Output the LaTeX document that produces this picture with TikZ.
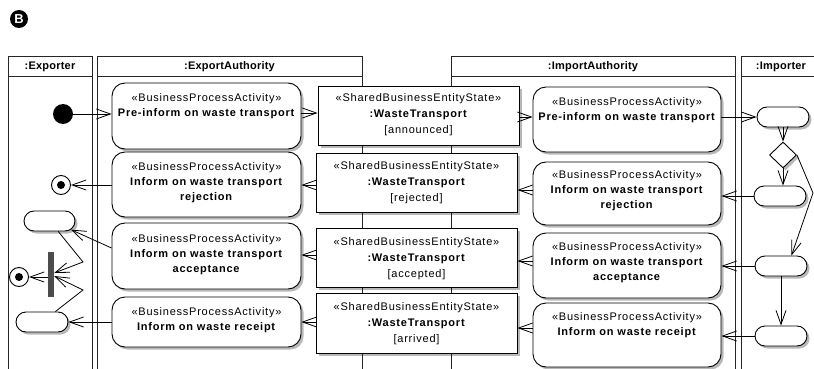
\documentclass[tikz,border=0pt]{standalone}
\usepackage{fontspec}
\setmainfont{Liberation Sans}[LetterSpace=7]
\usetikzlibrary{arrows.meta,shapes.misc,shapes.geometric,shadows}

\tikzset{
  ulane/.style={draw=black!85, line width=1pt},
  ulanehead/.style={inner sep=0pt, font=\bfseries\fontsize{11}{12}\selectfont\addfontfeature{LetterSpace=2}},
  boxshadow/.style={drop shadow={shadow xshift=2.5pt, shadow yshift=-2.5pt, fill=black, opacity=0.28}},
  uaction/.style={draw=black, line width=0.9pt, fill=white, rounded corners=13pt,
    boxshadow, minimum width=189pt, inner sep=0pt},
  uentity/.style={draw=black, line width=0.9pt, fill=white, boxshadow,
    minimum width=201pt, inner sep=0pt},
  actiontext/.style={anchor=north, align=center, inner sep=0pt, font=\fontsize{11}{15}\selectfont},
  entitytext/.style={anchor=north, align=center, inner sep=0pt, font=\fontsize{11}{16}\selectfont},
  upill/.style={rounded rectangle, draw=black, line width=0.9pt, fill=white, boxshadow,
    minimum width=52pt, minimum height=20pt, inner sep=0pt},
  startnode/.style={circle, fill=black, minimum size=20pt, inner sep=0pt},
  endnode/.style={circle, draw=black, line width=0.9pt, fill=white, minimum size=19pt, inner sep=0pt,
    path picture={\fill[black] (path picture bounding box.center) circle (4pt);}},
  forkbar/.style={rectangle, fill=black!70, minimum width=6pt, minimum height=45pt, inner sep=0pt},
  decision/.style={diamond, draw=black, line width=0.9pt, fill=white, boxshadow,
    minimum width=27pt, minimum height=26pt, inner sep=0pt},
  uflow/.style={draw=black, line width=0.8pt, -{Straight Barb[length=14pt,width=10pt]}},
}

\begin{document}
\begin{tikzpicture}[x=1pt, y=-1pt]
\useasboundingbox (0,0) rectangle (814,369);
\clip (0,0) rectangle (814,369);

% badge
\node[circle, fill=black, minimum size=18pt, inner sep=0pt, text=white,
  font=\bfseries\fontsize{13}{13}\selectfont\addfontfeature{LetterSpace=0}] (badge) at (19,19) {B};

% swimlanes
\draw[ulane] (8,57) rectangle (92,390);   \draw[ulane] (8,77) -- (92,77);
\draw[ulane] (97,57) rectangle (362,390); \draw[ulane] (97,77) -- (362,77);
\draw[ulane] (451,57) rectangle (735,390); \draw[ulane] (451,77) -- (735,77);
\draw[ulane] (741,57) rectangle (822,390); \draw[ulane] (741,77) -- (822,77);
\node[ulanehead] (hexp) at (50,67) {:Exporter};
\node[ulanehead] (hea) at (229.5,67) {:ExportAuthority};
\node[ulanehead] (hia) at (593,67) {:ImportAuthority};
\node[ulanehead] (himp) at (781,67) {:Importer};

% export authority activities
\node[uaction, minimum height=66pt] (ea1) at (206.5,116) {};
\node[uaction, minimum height=65pt] (ea2) at (206.5,184.5) {};
\node[uaction, minimum height=66pt] (ea3) at (206.5,256) {};
\node[uaction, minimum height=50pt] (ea4) at (206.5,322) {};
\node[actiontext] (ea1t) at ([yshift=-10.5pt]ea1.north) {«BusinessProcessActivity»\\\textbf{Pre-inform on waste transport}};
\node[actiontext] (ea2t) at ([yshift=-10.5pt]ea2.north) {«BusinessProcessActivity»\\\textbf{Inform on waste transport}\\\textbf{rejection}};
\node[actiontext] (ea3t) at ([yshift=-11.5pt]ea3.north) {«BusinessProcessActivity»\\\textbf{Inform on waste transport}\\\textbf{acceptance}};
\node[actiontext] (ea4t) at ([yshift=-10.5pt]ea4.north) {«BusinessProcessActivity»\\\textbf{Inform on waste receipt}};

% shared entity states
\node[uentity, minimum height=59pt] (se1) at (418.5,115.5) {};
\node[uentity, minimum height=59pt] (se2) at (416.5,182.5) {};
\node[uentity, minimum height=59pt] (se3) at (416.5,257.5) {};
\node[uentity, minimum height=60pt] (se4) at (416.5,323) {};
\node[entitytext] (se1t) at ([yshift=-8pt]se1.north) {«SharedBusinessEntityState»\\\textbf{:WasteTransport}\\{}[announced]};
\node[entitytext] (se2t) at ([yshift=-8.5pt]se2.north) {«SharedBusinessEntityState»\\\textbf{:WasteTransport}\\{}[rejected]};
\node[entitytext] (se3t) at ([yshift=-9.5pt]se3.north) {«SharedBusinessEntityState»\\\textbf{:WasteTransport}\\{}[accepted]};
\node[entitytext] (se4t) at ([yshift=-9.5pt]se4.north) {«SharedBusinessEntityState»\\\textbf{:WasteTransport}\\{}[arrived]};

% import authority activities
\node[uaction, minimum height=65pt, minimum width=188pt] (ia1) at (627,119.5) {};
\node[uaction, minimum height=63pt, minimum width=188pt] (ia2) at (627,193.5) {};
\node[uaction, minimum height=65pt, minimum width=188pt] (ia3) at (627,265.5) {};
\node[uaction, minimum height=64pt, minimum width=188pt] (ia4) at (627,335) {};
\node[actiontext] (ia1t) at ([yshift=-10.5pt]ia1.north) {«BusinessProcessActivity»\\\textbf{Pre-inform on waste transport}};
\node[actiontext] (ia2t) at ([yshift=-9pt]ia2.north) {«BusinessProcessActivity»\\\textbf{Inform on waste transport}\\\textbf{rejection}};
\node[actiontext] (ia3t) at ([yshift=-10pt]ia3.north) {«BusinessProcessActivity»\\\textbf{Inform on waste transport}\\\textbf{acceptance}};
\node[actiontext] (ia4t) at ([yshift=-10pt]ia4.north) {«BusinessProcessActivity»\\\textbf{Inform on waste receipt}};

% exporter lane
\node[startnode] (start) at (63,114) {};
\node[endnode] (f1) at (61,185) {};
\node[upill, minimum width=51pt] (p1) at (49.5,221) {};
\node[forkbar] (bar) at (51,274.5) {};
\node[endnode] (f2) at (19,277) {};
\node[upill] (p2) at (42,322) {};
\coordinate (k1) at (83,262);
\coordinate (k2) at (83,290);

% importer lane
\node[upill] (i1) at (783,117) {};
\node[decision] (d) at (783,155) {};
\node[upill] (i2) at (780,196) {};
\node[upill] (i3) at (781,266) {};
\node[upill] (i4) at (781,336) {};
\coordinate (k3) at (813,193);

% flows in the exporter lane
\draw[uflow] (start.east) -- (start.east -| ea1.west);
\draw[uflow] (f1 -| ea2.west) -- (f1.east);
\draw[uflow] ([yshift=8pt]ea3.west) -- (p1.-22);
\draw[uflow] (p2 -| ea4.west) -- (p2.east);
\draw[uflow] (p1.-50) -- (k1) -- ([yshift=1.5pt]bar.east);
\draw[uflow] (p2.38) -- (k2) -- ([yshift=-1.5pt]bar.east);
\draw[uflow] (bar.west |- f2) -- (f2.east);

% object flows through the shared states
\coordinate (r1a) at ([yshift=3pt]ea1.east);
\draw[uflow] (r1a) -- (r1a -| se1.west);
\coordinate (r1b) at ([yshift=-1.5pt]se1.east);
\draw[uflow] (r1b) -- (r1b -| ia1.west);
\coordinate (r2a) at ([yshift=3.5pt]ia2.west);
\draw[uflow] (r2a) -- (r2a -| se2.east);
\coordinate (r2b) at ([yshift=-2.5pt]se2.west);
\draw[uflow] (r2b) -- (r2b -| ea2.east);
\coordinate (r3a) at ([yshift=4.5pt]ia3.west);
\draw[uflow] (r3a) -- (r3a -| se3.east);
\coordinate (r3b) at ([yshift=2.5pt]se3.west);
\draw[uflow] (r3b) -- (r3b -| ea3.east);
\coordinate (r4a) at ([yshift=7pt]ia4.west);
\draw[uflow] (r4a) -- (r4a -| se4.east);
\coordinate (r4b) at ([yshift=1pt]se4.west);
\draw[uflow] (r4b) -- (r4b -| ea4.east);

% flows in the importer lane
\draw[uflow] (i1 -| ia1.east) -- (i1.west);
\draw[uflow] (i1.south) -- (d.north);
\draw[uflow] (d.south) -- (d.south |- i2.north);
\draw[uflow] (d.east) -- (k3) -- (i3.45);
\draw[uflow] (i3.south) -- (i4.north);
\draw[uflow] (i2.west) -- (i2.west -| ia2.east);
\draw[uflow] (i3.west) -- (i3.west -| ia3.east);
\draw[uflow] (i4.west) -- (i4.west -| ia4.east);
\end{tikzpicture}
\end{document}
